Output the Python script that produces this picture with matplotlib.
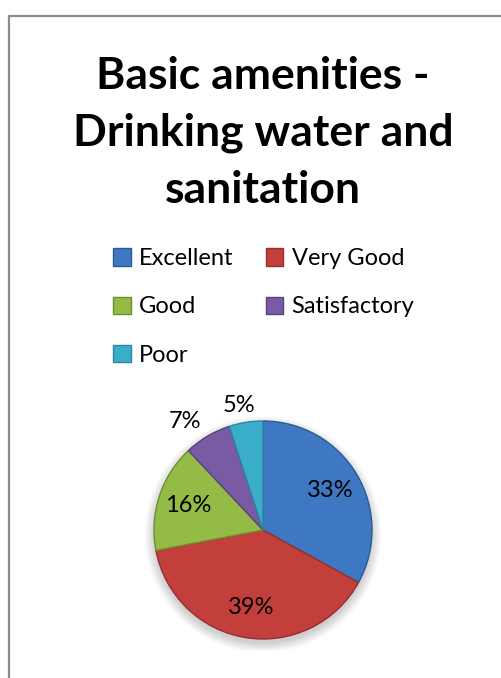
import numpy as np
import matplotlib
matplotlib.use("Agg")
import matplotlib.pyplot as plt
from matplotlib.lines import Line2D
from matplotlib.patches import Circle

plt.rcParams['font.family'] = ['Lato', 'DejaVu Sans']

# Chart data
categories = ["Excellent", "Very Good", "Good", "Satisfactory", "Poor"]
shares = [33, 39, 16, 7, 5]
colors = ["#3f78c2", "#c33f3c", "#95bb47", "#7a5ba3", "#3aaec9"]
edge_colors = ["#2c5a96", "#963030", "#6f8d33", "#5a4280", "#2a87a0"]
title = "Basic amenities -\nDrinking water and\nsanitation"

W, H = 501, 678
fig = plt.figure(figsize=(W / 100, H / 100), dpi=100)
fig.patch.set_facecolor("white")

# chart frame (left and top edges visible)
fx, fy = 8.5 / W, 1 - 15.5 / H
fig.add_artist(Line2D([fx, fx, 1.0], [0.0, fy, fy], transform=fig.transFigure,
                      color="#8c8c8c", lw=1.6))

# title
fig.text(263 / W, 1 - 133 / H, title, ha="center", va="center",
         fontsize=32, fontweight="bold", linespacing=1.5)

# pie
cx, cy, r = 263, 530, 109
ax = fig.add_axes([(cx - r * 1.1) / W, (H - cy - r * 1.1) / H, 2.2 * r / W, 2.2 * r / H])
ax.axis("off")

# soft shadow
for k in range(8):
    ax.add_patch(Circle((0.0, -0.04), 1.0 + 0.012 * k, color="black",
                        alpha=0.025, zorder=0, lw=0))

wedges, _, autotexts = ax.pie(
    shares, colors=colors, startangle=90, counterclock=False,
    autopct=lambda p: f"{p:.0f}%", pctdistance=0.72,
    wedgeprops=dict(linewidth=1.0),
    textprops=dict(fontsize=17, color="black"))
ax.set_xlim(-1.1, 1.1)
ax.set_ylim(-1.1, 1.1)
for w, ec in zip(wedges, edge_colors):
    w.set_edgecolor(ec)
    w.set_zorder(2)

# small slices get their labels outside
for w, t, s in zip(wedges, autotexts, shares):
    t.set_zorder(3)
    if s < 10:
        ang = np.deg2rad((w.theta1 + w.theta2) / 2)
        t.set_position((1.4 * np.cos(ang), 1.16 * np.sin(ang)))

# legend, filled row by row
order = [0, 2, 4, 1, 3]
fig.legend([wedges[i] for i in order], [categories[i] for i in order],
           ncol=2, loc="upper left", bbox_to_anchor=(92 / W, 1 - 227 / H),
           frameon=False, fontsize=17, handlelength=0.75, handleheight=0.75,
           handletextpad=0.35, columnspacing=1.35, labelspacing=1.15)

fig.savefig("out.png", dpi=100, facecolor="white")
